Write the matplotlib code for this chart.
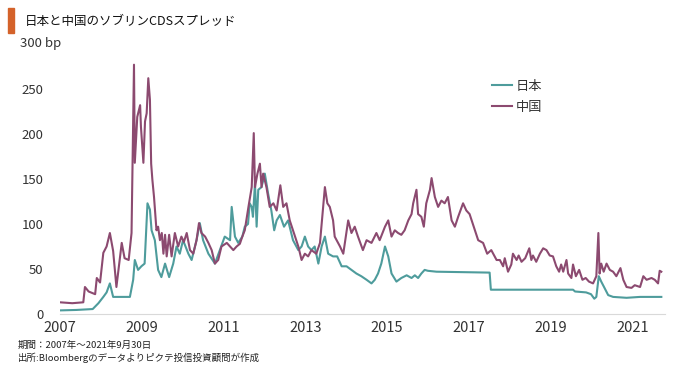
import matplotlib
matplotlib.use('Agg')
import matplotlib.pyplot as plt
import matplotlib.transforms as mtransforms
from matplotlib.patches import Rectangle

plt.rcParams['font.family'] = ['Noto Sans CJK JP', 'DejaVu Sans']

# Japan sovereign CDS (bp), decimal years
jp_t = [2007.00, 2007.40, 2007.80, 2007.94, 2008.06, 2008.14, 2008.22, 2008.30,
        2008.46, 2008.63, 2008.71, 2008.79, 2008.83, 2008.91, 2008.99, 2009.07,
        2009.14, 2009.20, 2009.24, 2009.32, 2009.40, 2009.48, 2009.57, 2009.67,
        2009.77, 2009.85, 2009.93, 2010.01, 2010.14, 2010.22, 2010.34, 2010.42,
        2010.50, 2010.63, 2010.79, 2010.91, 2011.03, 2011.16, 2011.20, 2011.28,
        2011.36, 2011.46, 2011.52, 2011.60, 2011.64, 2011.69, 2011.72, 2011.77,
        2011.81, 2011.85, 2011.93, 2012.01, 2012.09, 2012.17, 2012.24, 2012.30,
        2012.38, 2012.48, 2012.58, 2012.70, 2012.83, 2012.91, 2012.99, 2013.07,
        2013.15, 2013.23, 2013.32, 2013.40, 2013.48, 2013.56, 2013.68, 2013.78,
        2013.89, 2014.01, 2014.13, 2014.25, 2014.37, 2014.50, 2014.62, 2014.70,
        2014.78, 2014.86, 2014.95, 2015.03, 2015.11, 2015.23, 2015.35, 2015.48,
        2015.60, 2015.68, 2015.76, 2015.84, 2015.92, 2016.00, 2016.21, 2017.51,
        2017.54, 2019.55, 2019.60, 2019.87, 2019.99, 2020.07, 2020.12, 2020.18,
        2020.24, 2020.32, 2020.41, 2020.53, 2020.86, 2021.19, 2021.71]
jp_v = [4, 4.5, 5.5, 12, 19, 24, 34, 19,
        19, 19, 19, 38, 60, 49, 53, 56,
        123, 116, 93, 82, 49, 41, 56, 41,
        56, 75, 67, 82, 67, 60, 82, 101,
        82, 67, 56, 71, 86, 82, 119, 86,
        79, 86, 97, 100, 123, 119, 108, 145,
        97, 138, 141, 156, 134, 115, 93, 104,
        110, 97, 104, 82, 71, 75, 86, 75,
        71, 75, 56, 75, 86, 67, 64, 64,
        53, 53, 49, 45, 42, 38, 34, 38,
        45, 56, 75, 64, 45, 36, 40, 43,
        40, 43, 40, 45, 49, 48, 47, 46,
        27, 27, 25, 24, 22, 17, 19, 42,
        36, 29, 21, 19, 18, 19, 19]

# China sovereign CDS (bp), decimal years
cn_t = [2007.00, 2007.30, 2007.57, 2007.61, 2007.70, 2007.86, 2007.90, 2007.98,
        2008.06, 2008.14, 2008.22, 2008.30, 2008.38, 2008.51, 2008.58, 2008.68,
        2008.75, 2008.81, 2008.83, 2008.89, 2008.96, 2008.98, 2009.04, 2009.08,
        2009.12, 2009.16, 2009.20, 2009.23, 2009.26, 2009.30, 2009.36, 2009.40,
        2009.445, 2009.49, 2009.53, 2009.57, 2009.61, 2009.67, 2009.73, 2009.81,
        2009.89, 2009.97, 2010.03, 2010.10, 2010.18, 2010.26, 2010.34, 2010.40,
        2010.46, 2010.55, 2010.63, 2010.71, 2010.79, 2010.87, 2010.95, 2011.08,
        2011.16, 2011.24, 2011.32, 2011.40, 2011.46, 2011.52, 2011.61, 2011.69,
        2011.74, 2011.77, 2011.83, 2011.89, 2011.93, 2011.97, 2012.05, 2012.13,
        2012.22, 2012.30, 2012.39, 2012.46, 2012.54, 2012.62, 2012.70, 2012.83,
        2012.91, 2012.99, 2013.07, 2013.15, 2013.27, 2013.36, 2013.48, 2013.54,
        2013.60, 2013.68, 2013.72, 2013.85, 2013.93, 2014.05, 2014.13, 2014.21,
        2014.29, 2014.41, 2014.50, 2014.62, 2014.74, 2014.82, 2014.95, 2015.03,
        2015.11, 2015.19, 2015.27, 2015.35, 2015.43, 2015.52, 2015.60, 2015.64,
        2015.72, 2015.76, 2015.84, 2015.90, 2015.96, 2016.05, 2016.09, 2016.17,
        2016.25, 2016.33, 2016.41, 2016.49, 2016.58, 2016.66, 2016.74, 2016.86,
        2016.94, 2017.02, 2017.15, 2017.23, 2017.35, 2017.45, 2017.55, 2017.68,
        2017.76, 2017.84, 2017.88, 2017.96, 2018.04, 2018.08, 2018.17, 2018.22,
        2018.29, 2018.38, 2018.48, 2018.53, 2018.57, 2018.65, 2018.74, 2018.82,
        2018.90, 2018.98, 2019.06, 2019.14, 2019.21, 2019.26, 2019.31, 2019.39,
        2019.43, 2019.51, 2019.55, 2019.62, 2019.70, 2019.78, 2019.86, 2019.94,
        2020.04, 2020.12, 2020.17, 2020.20, 2020.24, 2020.30, 2020.37, 2020.45,
        2020.53, 2020.61, 2020.71, 2020.78, 2020.86, 2020.98, 2021.06, 2021.19,
        2021.27, 2021.35, 2021.47, 2021.55, 2021.63, 2021.67, 2021.71]
cn_v = [13, 12, 13, 30, 25, 22, 40, 35,
        68, 75, 90, 70, 30, 79, 62, 60,
        90, 277, 168, 219, 232, 208, 168, 214,
        223, 262, 238, 167, 149, 130, 93, 97,
        82, 90, 67, 88, 64, 88, 64, 90,
        75, 86, 80, 90, 71, 67, 82, 101,
        90, 86, 79, 71, 56, 60, 75, 79,
        75, 71, 75, 78, 86, 93, 119, 141,
        201, 141, 156, 167, 141, 156, 141, 119,
        123, 115, 143, 119, 123, 104, 93, 75,
        60, 67, 64, 71, 67, 79, 141, 123,
        119, 104, 86, 75, 67, 104, 90, 97,
        86, 71, 82, 79, 90, 82, 97, 104,
        86, 93, 90, 88, 93, 104, 111, 123,
        138, 111, 108, 97, 123, 138, 151, 130,
        119, 126, 123, 130, 104, 97, 108, 123,
        115, 111, 93, 82, 79, 67, 71, 60,
        60, 53, 62, 47, 55, 67, 60, 65,
        58, 62, 73, 60, 65, 58, 67, 73,
        71, 65, 64, 53, 47, 55, 47, 60,
        45, 40, 55, 42, 49, 38, 40, 36,
        34, 42, 90, 45, 56, 47, 56, 49,
        47, 42, 51, 38, 30, 29, 32, 30,
        42, 38, 40, 38, 34, 48, 47]

year_ticks = [2007, 2009, 2011, 2013, 2015, 2017, 2019, 2021]
y_ticks = [0, 50, 100, 150, 200, 250]

teal = '#4E9C9C'
plum = '#8C4A70'
txt = '#333333'

fig = plt.figure(figsize=(6.8, 3.69), dpi=100)
ax = fig.add_axes([60/680, 1 - 314/369, 605/680, 270/369])

ax.plot(jp_t, jp_v, color=teal, lw=1.5, label='日本')
ax.plot(cn_t, cn_v, color=plum, lw=1.5, label='中国')

ax.set_xlim(2007.0, 2021.8)
ax.set_ylim(0, 300)
ax.set_xticks(year_ticks)
ax.set_xticklabels([str(y) for y in year_ticks], fontsize=10.5, color=txt)
ax.set_yticks(y_ticks)
ax.set_yticklabels([str(v) for v in y_ticks], fontsize=9.5, color=txt)
ax.tick_params(axis='x', length=0, pad=5)
ax.tick_params(axis='y', length=0, pad=12)

# top label of the y axis carries the unit
trans = mtransforms.blended_transform_factory(fig.transFigure, ax.transData)
ax.text(20/680, 300, '300 bp', transform=trans, fontsize=9.5, color=txt,
        ha='left', va='center')

for s in ['top', 'right', 'left']:
    ax.spines[s].set_visible(False)
ax.spines['bottom'].set_color('#d9d9d9')

fig.legend(loc='upper left', bbox_to_anchor=(480/680, 1 - 68/369), frameon=False,
           fontsize=9.5, handlelength=1.5, handletextpad=0.3, labelspacing=0.6,
           labelcolor=txt)

# title with orange marker
fig.patches.append(Rectangle((8/680, 1 - 33/369), 6/680, 25/369,
                             transform=fig.transFigure, color='#D4622A'))
fig.text(25/680, 1 - 21/369, '日本と中国のソブリンCDSスプレッド', fontsize=9,
         va='center', ha='left', color='#111111')

fig.text(18/680, 1 - 345/369, '期間：2007年～2021年9月30日', fontsize=6.8,
         va='center', color='#222222')
fig.text(18/680, 1 - 358/369, '出所:Bloombergのデータよりピクテ投信投資顧問が作成',
         fontsize=6.8, va='center', color='#222222')

fig.savefig('out.png', dpi=100)
